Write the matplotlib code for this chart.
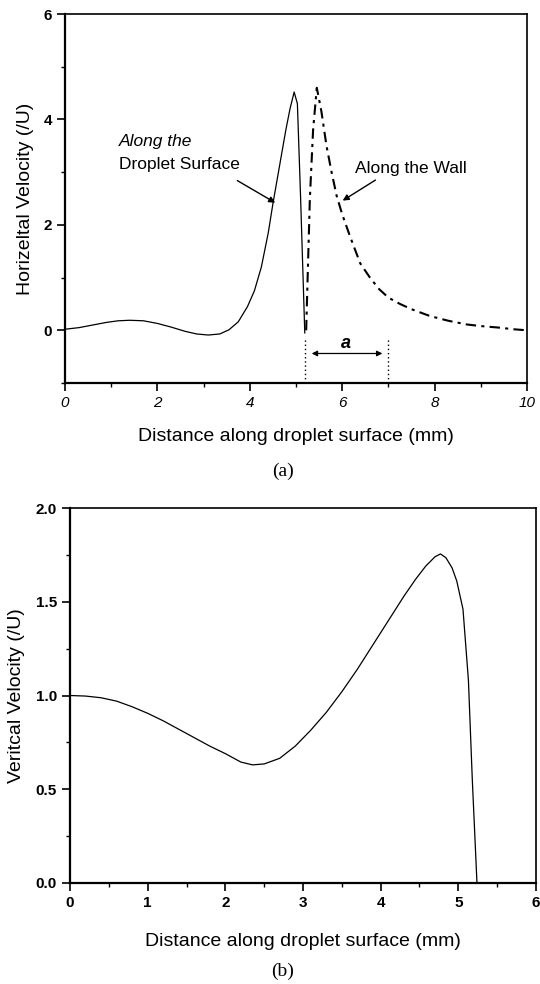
import matplotlib
matplotlib.use('Agg')
import matplotlib.pyplot as plt
from matplotlib.ticker import MultipleLocator

plt.rcParams['font.family'] = ['Liberation Sans', 'DejaVu Sans']

# (a) horizontal velocity
surf_x = [0, 0.3, 0.6, 0.9, 1.15, 1.4, 1.7, 2.0, 2.3, 2.6, 2.85, 3.1, 3.35, 3.55,
          3.75, 3.95, 4.1, 4.25, 4.4, 4.5, 4.6, 4.7, 4.78, 4.87, 4.96, 5.03, 5.1, 5.19]
surf_y = [0.02, 0.05, 0.10, 0.15, 0.18, 0.19, 0.18, 0.13, 0.06, -0.02, -0.07, -0.09,
          -0.07, 0.01, 0.16, 0.45, 0.75, 1.2, 1.85, 2.4, 2.9, 3.4, 3.8, 4.2, 4.52,
          4.30, 2.5, -0.05]

wall_x = [5.22, 5.30, 5.37, 5.45, 5.55, 5.66, 5.77, 5.88, 6.0, 6.17, 6.39, 6.6, 6.8,
          7.0, 7.25, 7.5, 7.9, 8.3, 8.7, 9.0, 9.4, 9.7, 10.0]
wall_y = [0.0, 2.5, 3.8, 4.6, 4.15, 3.5, 3.0, 2.55, 2.2, 1.78, 1.27, 1.0, 0.78,
          0.62, 0.5, 0.4, 0.27, 0.18, 0.11, 0.08, 0.05, 0.02, 0.0]

gap_left, gap_right = 5.19, 7.0

# (b) vertical velocity
vert_x = [0, 0.2, 0.4, 0.6, 0.8, 1.0, 1.2, 1.4, 1.6, 1.8, 2.0, 2.2, 2.35, 2.5, 2.7,
          2.9, 3.1, 3.3, 3.5, 3.7, 3.9, 4.1, 4.3, 4.45, 4.58, 4.7, 4.77, 4.84, 4.92,
          4.98, 5.06, 5.13, 5.18, 5.24]
vert_y = [1.0, 0.997, 0.988, 0.97, 0.94, 0.905, 0.865, 0.82, 0.775, 0.73, 0.69,
          0.645, 0.63, 0.635, 0.665, 0.73, 0.815, 0.91, 1.02, 1.14, 1.27, 1.40,
          1.53, 1.62, 1.69, 1.74, 1.755, 1.735, 1.68, 1.61, 1.46, 1.08, 0.55, 0.0]

W, H = 540, 984
fig = plt.figure(figsize=(W / 100, H / 100), dpi=100)


def rect(l, t, r, b):
    return [l / W, 1 - b / H, (r - l) / W, (b - t) / H]


def style_axes(ax):
    for s in ax.spines.values():
        s.set_linewidth(1.2)
    ax.spines['left'].set_linewidth(1.6)
    ax.spines['bottom'].set_linewidth(1.6)
    ax.tick_params(which='major', direction='out', length=6, width=1.2)
    ax.tick_params(which='minor', direction='out', length=3, width=1.0)


# ---- panel (a)
ax1 = fig.add_axes(rect(65, 14, 527, 383))
ax1.plot(surf_x, surf_y, color='black', lw=0.9)
ax1.plot(wall_x, wall_y, color='black', lw=1.5, linestyle=(0, (5, 2.5, 1.5, 2.5)))
ax1.vlines([gap_left, gap_right], -1, -0.17, colors='black', linestyles=(0, (1, 2)), lw=1.0)
ax1.annotate('', xy=(gap_left + 0.15, -0.44), xytext=(gap_right - 0.13, -0.44),
             arrowprops=dict(arrowstyle='<|-|>', lw=0.9, color='black',
                             mutation_scale=8, shrinkA=0, shrinkB=0))
ax1.text(6.08, -0.25, 'a', fontsize=13, style='italic', fontweight='bold',
         ha='center', va='center')

ax1.text(1.16, 3.58, 'Along the', fontsize=12.5, style='italic', va='center')
ax1.text(1.16, 3.15, 'Droplet Surface', fontsize=12.5, va='center')
ax1.annotate('', xy=(4.55, 2.42), xytext=(3.73, 2.84),
             arrowprops=dict(arrowstyle='-|>', lw=1.0, color='black',
                             mutation_scale=9, shrinkA=0, shrinkB=0))
ax1.text(6.27, 3.06, 'Along the Wall', fontsize=12.5, va='center')
ax1.annotate('', xy=(6.01, 2.46), xytext=(6.72, 2.85),
             arrowprops=dict(arrowstyle='-|>', lw=1.0, color='black',
                             mutation_scale=9, shrinkA=0, shrinkB=0))

ax1.set_xlim(0, 10)
ax1.set_ylim(-1, 6)
ax1.xaxis.set_major_locator(MultipleLocator(2))
ax1.xaxis.set_minor_locator(MultipleLocator(1))
ax1.yaxis.set_major_locator(MultipleLocator(2))
ax1.yaxis.set_minor_locator(MultipleLocator(1))
style_axes(ax1)
for lab in ax1.get_xticklabels():
    lab.set_fontstyle('italic')
    lab.set_fontsize(11)
for lab in ax1.get_yticklabels():
    lab.set_fontweight('bold')
    lab.set_fontsize(11)
ax1.set_xlabel('Distance along droplet surface (mm)', fontsize=14)
ax1.set_ylabel('Horizeltal Velocity (/U)', fontsize=14)
ax1.xaxis.set_label_coords(0.5, (383 - 437) / 369)
ax1.xaxis.label.set_va('center')
ax1.yaxis.set_label_coords((26 - 65) / 462, 0.5)
ax1.yaxis.label.set_va('center')

fig.text(283 / W, 1 - 471 / H, '(a)', fontsize=14, family='Liberation Serif',
         ha='center', va='center')

# ---- panel (b)
ax2 = fig.add_axes(rect(70, 508, 536, 883))
ax2.plot(vert_x, vert_y, color='black', lw=0.9)
ax2.set_xlim(0, 6)
ax2.set_ylim(0, 2)
ax2.xaxis.set_major_locator(MultipleLocator(1))
ax2.xaxis.set_minor_locator(MultipleLocator(0.5))
ax2.yaxis.set_major_locator(MultipleLocator(0.5))
ax2.yaxis.set_minor_locator(MultipleLocator(0.25))
ax2.yaxis.set_major_formatter(matplotlib.ticker.FormatStrFormatter('%.1f'))
style_axes(ax2)
for lab in ax2.get_xticklabels() + ax2.get_yticklabels():
    lab.set_fontweight('bold')
    lab.set_fontsize(11)
ax2.set_xlabel('Distance along droplet surface (mm)', fontsize=14)
ax2.set_ylabel('Veritcal Velocity (/U)', fontsize=14)
ax2.xaxis.set_label_coords(0.5, (883 - 941) / 375)
ax2.xaxis.label.set_va('center')
ax2.yaxis.set_label_coords((17 - 70) / 466, 0.5)
ax2.yaxis.label.set_va('center')

fig.text(283 / W, 1 - 971 / H, '(b)', fontsize=14, family='Liberation Serif',
         ha='center', va='center')

fig.savefig('out.png', dpi=100)
